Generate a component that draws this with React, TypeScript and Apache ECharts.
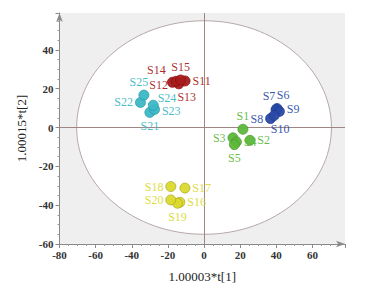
import React, { useEffect, useRef } from "react";
import * as echarts from "echarts";

const greenNames = ["S1", "S2", "S3", "S4", "S5"];
const greenX = [21.5, 25.4, 16.0, 17.9, 16.8];
const greenY = [-0.9, -6.6, -5.3, -7.4, -8.8];
const greenPos = ["top", "right", "left", "right", "bottom"];

const blueNames = ["S6", "S7", "S8", "S9", "S10"];
const blueX = [40.4, 39.8, 36.8, 41.7, 38.8];
const blueY = [9.8, 9.2, 4.6, 8.3, 6.2];
const bluePos = ["top", "top", "left", "right", "bottom"];
const blueOffset = [[6, 0], [-7, 0], [0, 0], [0, -2], [6, 0]];

const redNames = ["S11", "S12", "S13", "S14", "S15"];
const redX = [-10.5, -17.5, -14.0, -15.5, -13.0];
const redY = [24.0, 23.3, 22.5, 23.8, 24.5];
const redPos = ["right", "left", "bottom", "left", "top"];
const redOffset = [[0, 0], [3, 3], [8, 0], [-3, -11], [0, 0]];

const yellowNames = ["S16", "S17", "S18", "S19", "S20"];
const yellowX = [-13.4, -10.6, -18.4, -14.7, -18.4];
const yellowY = [-38.5, -31.2, -30.4, -39.0, -37.3];
const yellowPos = ["right", "right", "left", "bottom", "left"];

const cyanNames = ["S21", "S22", "S23", "S24", "S25"];
const cyanX = [-30.0, -35.2, -27.4, -28.1, -33.3];
const cyanY = [7.8, 12.9, 9.3, 11.5, 16.7];
const cyanPos = ["bottom", "left", "right", "right", "top"];
const cyanOffset = [[0, 0], [0, 0], [0, 2], [-3, -7], [-5, 0]];

const ellipse = [[0, 0, 70.5, 55]];

const xTitle = "1.00003*t[1]";
const yTitle = "1.00015*t[2]";

const serif = "'Liberation Serif', 'Times New Roman', serif";

function build(names: string[], xs: number[], ys: number[], pos: string[], off?: number[][]) {
  return names.map((n, i) => ({
    name: n,
    value: [xs[i], ys[i]],
    label: { position: pos[i], offset: off ? off[i] : [0, 0] },
  }));
}

function scatter(data: any[], color: string, border: string) {
  return {
    type: "scatter",
    data,
    symbolSize: 10,
    z: 5,
    itemStyle: { color, borderColor: border, borderWidth: 0.8, opacity: 0.95 },
    label: {
      show: true,
      formatter: "{b}",
      color,
      fontFamily: serif,
      fontSize: 12,
      distance: 2,
    },
  };
}

export default function App() {
  const ref = useRef<HTMLDivElement>(null);
  useEffect(() => {
    const chart = echarts.init(ref.current!, null, { renderer: "svg" });
    const axisCommon = {
      axisLine: {
        show: true,
        onZero: false,
        symbol: ["none", "arrow"],
        symbolSize: [5, 9],
        lineStyle: { color: "#8a8a8a", width: 1 },
      },
      axisTick: { show: true, inside: false, length: 4, lineStyle: { color: "#8a8a8a" } },
      minorTick: { show: true, splitNumber: 4, length: 2, lineStyle: { color: "#9a9a9a" } },
      splitLine: { show: false },
      nameTextStyle: { color: "#222", fontFamily: serif, fontSize: 13 },
    };
    const labelCommon = {
      color: "#333",
      fontFamily: serif,
      fontSize: 11,
      fontWeight: "bold",
      showMaxLabel: false,
      showMinLabel: true,
    };
    chart.setOption({
      animation: false,
      grid: {
        left: 59.5,
        right: 36,
        top: 13,
        bottom: 43,
        show: true,
        backgroundColor: "#efefef",
        borderWidth: 0,
      },
      xAxis: {
        type: "value",
        min: -80,
        max: 78,
        interval: 20,
        name: xTitle,
        nameLocation: "middle",
        nameGap: 26,
        ...axisCommon,
        axisLabel: { ...labelCommon, margin: 5 },
      },
      yAxis: {
        type: "value",
        min: -60,
        max: 59,
        interval: 20,
        name: yTitle,
        nameLocation: "middle",
        nameGap: 31,
        ...axisCommon,
        axisLabel: { ...labelCommon, margin: 6 },
      },
      series: [
        {
          type: "custom",
          z: 1,
          data: ellipse,
          silent: true,
          renderItem: (params: any, api: any) => {
            const c = api.coord([api.value(0), api.value(1)]);
            const s = api.size([api.value(2), api.value(3)]);
            return {
              type: "ellipse",
              shape: { cx: c[0], cy: c[1], rx: s[0], ry: s[1] },
              style: { fill: "#ffffff", stroke: "#b8a8a8", lineWidth: 1 },
            };
          },
          markLine: {
            silent: true,
            symbol: ["none", "none"],
            label: { show: false },
            lineStyle: { color: "#a08585", type: "solid", width: 1 },
            data: [{ xAxis: 0 }, { yAxis: 0 }],
          },
        },
        scatter(build(greenNames, greenX, greenY, greenPos), "#5db83a", "#4a9a2c"),
        scatter(build(blueNames, blueX, blueY, bluePos, blueOffset), "#2a4aa8", "#1e3a90"),
        scatter(build(redNames, redX, redY, redPos, redOffset), "#a81c1c", "#8a1010"),
        scatter(build(yellowNames, yellowX, yellowY, yellowPos), "#dada2e", "#b0a820"),
        scatter(build(cyanNames, cyanX, cyanY, cyanPos, cyanOffset), "#3cb8c6", "#2a9aa8"),
      ],
    });
    return () => chart.dispose();
  }, []);
  return (
    <div
      ref={ref}
      style={{ position: "absolute", left: 0, top: 0, width: 381, height: 288 }}
    />
  );
}
